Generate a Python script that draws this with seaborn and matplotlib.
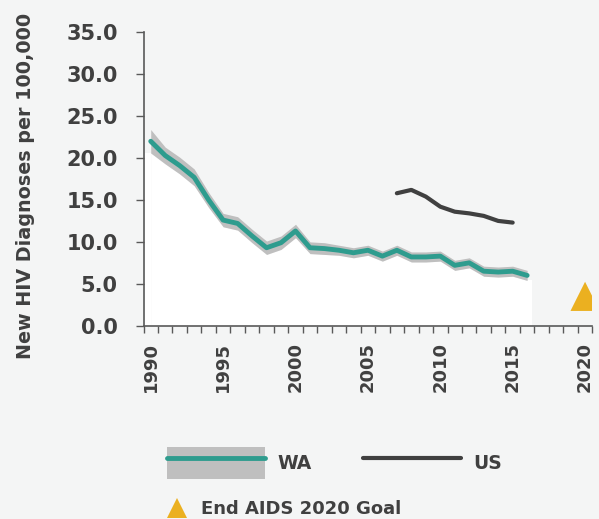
import matplotlib
matplotlib.use("Agg")
import matplotlib.pyplot as plt
import seaborn as sns
import pandas as pd
from matplotlib.lines import Line2D
from matplotlib.patches import Patch
from matplotlib.legend_handler import HandlerTuple
from matplotlib.ticker import MultipleLocator

# ---- data ----
wa_years = [1990, 1991, 1992, 1993, 1994, 1995, 1996, 1997, 1998, 1999,
            2000, 2001, 2002, 2003, 2004, 2005, 2006, 2007, 2008, 2009,
            2010, 2011, 2012, 2013, 2014, 2015, 2016]
wa_rate = [22.0, 20.3, 19.1, 17.7, 15.0, 12.6, 12.2, 10.7, 9.3, 9.9,
           11.3, 9.3, 9.2, 9.0, 8.7, 9.0, 8.3, 9.0, 8.2, 8.2,
           8.3, 7.2, 7.5, 6.5, 6.4, 6.5, 6.0]
wa_upper = [23.4, 21.3, 20.1, 18.7, 15.9, 13.4, 13.0, 11.5, 10.1, 10.7,
            12.1, 10.0, 9.9, 9.6, 9.3, 9.6, 8.9, 9.6, 8.8, 8.8,
            8.9, 7.8, 8.1, 7.1, 7.0, 7.1, 6.6]
wa_lower = [20.6, 19.3, 18.1, 16.7, 14.1, 11.8, 11.4, 9.9, 8.5, 9.1,
            10.5, 8.6, 8.5, 8.4, 8.1, 8.4, 7.7, 8.4, 7.6, 7.6,
            7.7, 6.6, 6.9, 5.9, 5.8, 5.9, 5.4]
us_years = [2007, 2008, 2009, 2010, 2011, 2012, 2013, 2014, 2015]
us_rate = [15.8, 16.2, 15.4, 14.2, 13.6, 13.4, 13.1, 12.5, 12.3]
goal_year = [2020]
goal_rate = [3.5]
x_tick_years = [1990, 1995, 2000, 2005, 2010, 2015, 2020]
y_ticks = [0, 5, 10, 15, 20, 25, 30, 35]
series_labels = ["WA", "US"]
goal_label = "End AIDS 2020 Goal"
y_label = "New HIV Diagnoses per 100,000"

# ---- style ----
BG = "#f4f5f5"
TEXT = "#404040"
TEAL = "#2e9c8e"
BAND = "#bfbfbf"
USC = "#404040"
GOLD = "#ebb020"

sns.set_theme(style="white")
plt.rcParams["font.family"] = ["DejaVu Sans"]
plt.rcParams["font.weight"] = "bold"

wa_df = pd.DataFrame({"year": wa_years, "rate": wa_rate,
                      "lo": wa_lower, "hi": wa_upper})
us_df = pd.DataFrame({"year": us_years, "rate": us_rate})
goal_df = pd.DataFrame({"year": goal_year, "rate": goal_rate})

fig = plt.figure(figsize=(5.99, 5.19), dpi=100, facecolor=BG)
W, H = 599, 519
x0, x1 = 143.5, 592.3
y0, y1 = 325.7, 32.3
ax = fig.add_axes([x0 / W, (H - y0) / H, (x1 - x0) / W, (y0 - y1) / H])
ax.set_facecolor(BG)

# white area under WA (extends a little past first/last points)
ax.fill_between(wa_df["year"], 0, wa_df["lo"], color="white", lw=0, zorder=1)
ax.fill_between([wa_years[-1], wa_years[-1] + 0.35], 0,
                [wa_lower[-1], wa_lower[-1]], color="white", lw=0, zorder=1)
ax.fill_between([wa_years[0] - 0.4, wa_years[0]], 0,
                [wa_lower[0], wa_lower[0]], color="white", lw=0, zorder=1)
# confidence band
ax.fill_between(wa_df["year"], wa_df["lo"], wa_df["hi"], color=BAND, lw=0, zorder=2)
sns.lineplot(data=wa_df, x="year", y="rate", color=TEAL, lw=3.5, ax=ax,
             legend=False, zorder=3, solid_joinstyle="round", solid_capstyle="round")
sns.lineplot(data=us_df, x="year", y="rate", color=USC, lw=3, ax=ax,
             legend=False, zorder=3, solid_joinstyle="round", solid_capstyle="round")
sns.scatterplot(data=goal_df, x="year", y="rate", marker="^", s=21 ** 2,
                color=GOLD, edgecolor="none", ax=ax, legend=False, zorder=4)

ax.set_xlim(1989.5, 2020.5)
ax.set_ylim(0, 35)
ax.set_xticks(x_tick_years)
ax.set_xticklabels([str(y) for y in x_tick_years], rotation=90,
                   fontsize=13, fontweight="bold", color=TEXT)
ax.xaxis.set_minor_locator(MultipleLocator(1, offset=0.5))
ax.set_yticks(y_ticks)
ax.set_yticklabels([f"{v:.1f}" for v in y_ticks], fontsize=15,
                   fontweight="bold", color=TEXT)
ax.tick_params(axis="x", which="major", length=0, pad=12)
ax.tick_params(axis="x", which="minor", length=5.3, width=1, color="#595959",
               direction="out", bottom=True)
ax.tick_params(axis="y", which="major", length=6, width=1, color="#595959",
               direction="out", left=True, pad=12.5)
for s in ["top", "right"]:
    ax.spines[s].set_visible(False)
for s in ["left", "bottom"]:
    ax.spines[s].set_color("#595959")
    ax.spines[s].set_linewidth(1.2)
ax.set_xlabel("")
ax.set_ylabel(y_label, fontsize=13.8, fontweight="bold", color=TEXT)
ax.yaxis.set_label_coords((35 - x0) / (x1 - x0), (y0 - 186) / (y0 - y1))

# legends
wa_handle = (Patch(facecolor=BAND, edgecolor="none"),
             Line2D([], [], color=TEAL, lw=3.5))
us_handle = Line2D([], [], color=USC, lw=3)
leg1 = fig.legend([wa_handle, us_handle], series_labels,
                  handler_map={tuple: HandlerTuple(ndivide=1, pad=0)},
                  loc="center left", bbox_to_anchor=(167 / W, 1 - 463 / H),
                  ncol=2, frameon=False,
                  prop={"weight": "bold", "size": 13.5},
                  handlelength=5.25, handleheight=2.25, handletextpad=0.65,
                  columnspacing=2.7, borderpad=0, borderaxespad=0)
for t in leg1.get_texts():
    t.set_color(TEXT)
goal_handle = Line2D([], [], marker="^", linestyle="none", color=GOLD,
                     markersize=15, markeredgewidth=0)
leg2 = fig.legend([goal_handle], [goal_label], loc="center left",
                  bbox_to_anchor=(167 / W, 1 - 509 / H), frameon=False,
                  prop={"weight": "bold", "size": 13.0},
                  handlelength=1.15, handletextpad=0.75, borderpad=0,
                  borderaxespad=0)
for t in leg2.get_texts():
    t.set_color(TEXT)

fig.savefig("out.png", dpi=100, facecolor=BG)
